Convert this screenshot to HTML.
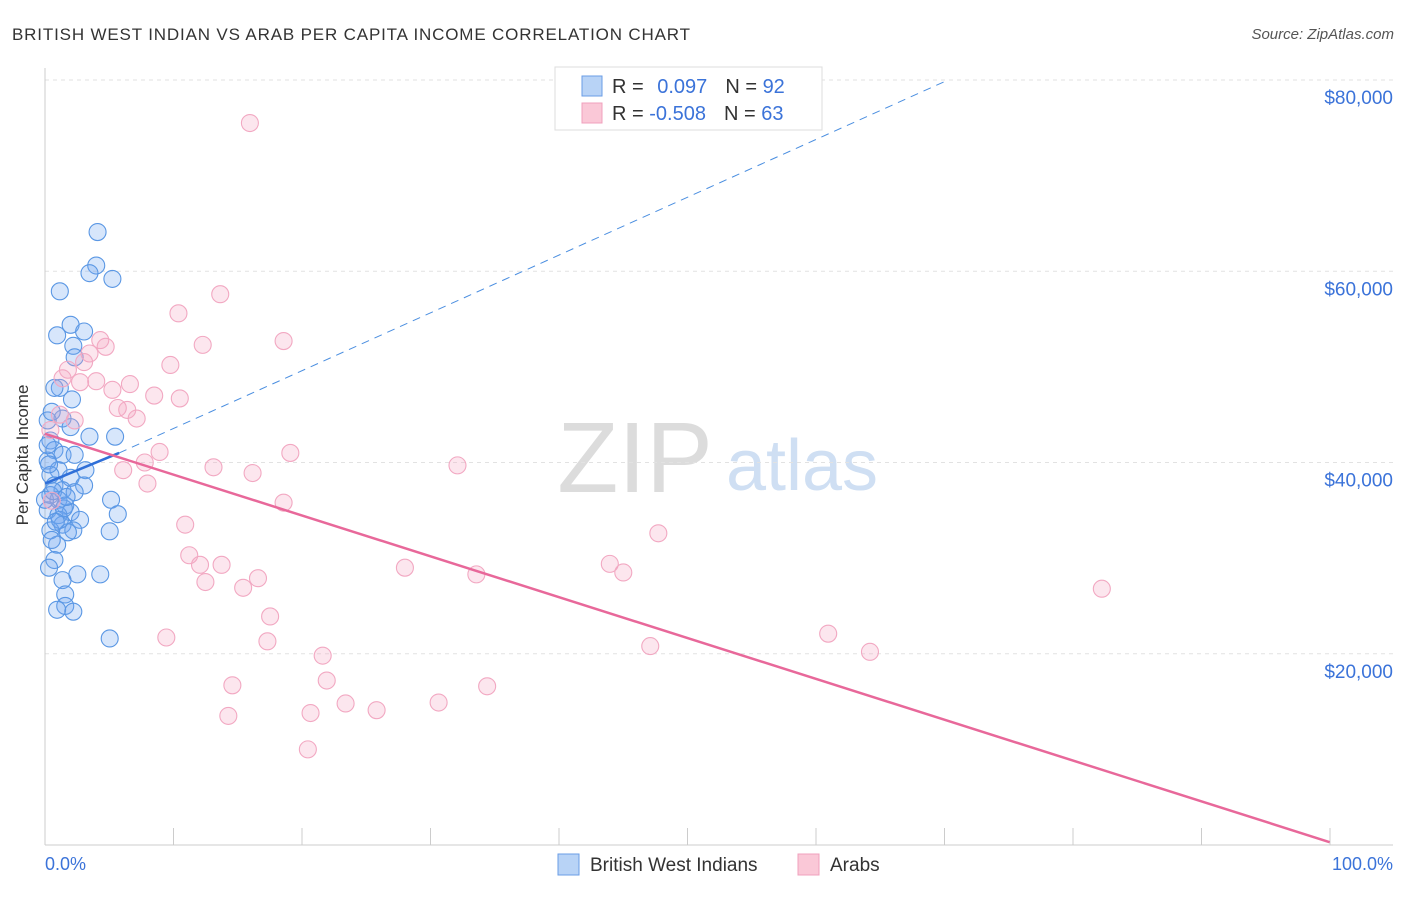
<!DOCTYPE html>
<html><head><meta charset="utf-8"><style>
body{margin:0;background:#fff;font-family:"Liberation Sans",sans-serif}
svg text{font-family:"Liberation Sans",sans-serif}
</style></head><body>
<svg width="1406" height="892" id="c">
<text x="12" y="40" font-size="17" fill="#333" textLength="678">BRITISH WEST INDIAN VS ARAB PER CAPITA INCOME CORRELATION CHART</text>
<text x="1394" y="39" font-size="15" fill="#555" font-style="italic" text-anchor="end">Source: ZipAtlas.com</text>
<text x="635" y="492" font-size="100" fill="#dcdcdc" font-family="Liberation Serif" text-anchor="middle">ZIP</text>
<text x="802" y="490" font-size="72" fill="#cfdff3" text-anchor="middle">atlas</text>
<g id="grid"></g><g id="axes"></g><g id="pts"></g><g id="lines"></g>
<text x="28" y="455" font-size="17" fill="#333" transform="rotate(-90 28 455)" text-anchor="middle">Per Capita Income</text>
<text x="45" y="870" font-size="18" fill="#3b73d9">0.0%</text>
<text x="1393" y="870" font-size="18" fill="#3b73d9" text-anchor="end">100.0%</text>
<g>
<rect x="555" y="67" width="267" height="63" fill="#fff" stroke="#ddd"/>
<rect x="582" y="76" width="20" height="20" fill="#b8d3f6" stroke="#6a9de6"/>
<rect x="582" y="103" width="20" height="20" fill="#fac8d7" stroke="#f0a0bc"/>
<text x="612" y="93" font-size="20" fill="#333">R = <tspan fill="#3b73d9" dx="8">0.097</tspan><tspan dx="18">N = </tspan><tspan fill="#3b73d9">92</tspan></text>
<text x="612" y="120" font-size="20" fill="#333">R = <tspan fill="#3b73d9">-0.508</tspan><tspan dx="18">N = </tspan><tspan fill="#3b73d9">63</tspan></text>
</g>
<g>
<rect x="558" y="854" width="21" height="21" fill="#b8d3f6" stroke="#6a9de6"/>
<text x="590" y="871" font-size="19" fill="#333">British West Indians</text>
<rect x="798" y="854" width="21" height="21" fill="#fac8d7" stroke="#f0a0bc"/>
<text x="830" y="871" font-size="19" fill="#333">Arabs</text>
</g>
</svg>
<script>
const yTicks=[20000,40000,60000,80000];
const yTickLabels=["$20,000","$40,000","$60,000","$80,000"];
const blueX=[3.9,3.8,3.3,5.0,1.1,1.9,2.9,0.9,2.1,2.2,1.1,0.7,2.0,1.3,1.9,3.3,5.2,0.4,0.7,1.3,2.2,0.2,1.0,3.0,0.4,1.9,0.7,2.9,1.3,2.2,0.4,1.0,4.9,1.5,0.2,1.9,1.0,5.4,2.6,1.3,0.4,2.1,1.7,4.8,0.9,0.7,2.4,4.1,1.3,1.5,1.5,0.9,2.1,4.8,0.2,0.5,0.2,0,1.1,0.5,0.6,1.4,0.3,0.8,1.6,0.3];
const blueY=[64100,60600,59800,59200,57900,54400,53700,53300,52200,51000,47800,47800,46600,44600,43700,42700,42700,42300,41300,40800,40800,40200,39200,39200,38700,38400,37600,37600,37100,36900,36600,36100,36100,35500,35000,34800,34500,34600,34000,33500,32900,32900,32700,32800,31400,29800,28300,28300,27700,26200,25000,24600,24400,21600,44400,45300,41800,36100,34000,31900,37000,35200,39800,33800,36400,29000];
const pinkX=[15.2,13.0,9.9,17.7,11.7,4.1,4.5,3.3,2.9,9.3,1.7,1.3,3.8,2.6,6.3,5.0,8.1,10.0,5.4,6.1,6.8,1.1,0.4,8.5,18.2,7.4,30.6,12.5,5.8,15.4,7.6,17.7,10.4,45.5,10.7,11.5,13.1,41.9,26.7,42.9,32.0,15.8,11.9,14.7,78.4,16.7,9.0,16.5,58.1,44.9,61.2,20.6,13.9,32.8,20.9,22.3,29.2,24.6,13.6,19.7,19.5,2.2,0.5];
const pinkY=[75500,57600,55600,52700,52300,52800,52100,51400,50500,50200,49700,48800,48500,48400,48200,47600,47000,46700,45700,45500,44600,45000,43400,41100,41000,40000,39700,39500,39200,38900,37800,35800,33500,32600,30300,29300,29300,29400,29000,28500,28300,27900,27500,26900,26800,23900,21700,21300,22100,20800,20200,19800,16700,16600,17200,14800,14900,14100,13500,13800,10000,44400,36000];
const blueTrend=[[0,37800],[5.5,41000]];
const blueDash=[[5.5,41000],[67,80000]];
const pinkTrend=[[0,43000],[95.3,300]];
const NS='http://www.w3.org/2000/svg';
const X0=45,X1=1393,Y0=845,YS=765/80000;
function sx(v){return X0+v*(X1-X0)/100;}
function sy(v){return Y0-v*YS;}
function mk(t,a,p){const e=document.createElementNS(NS,t);for(const k in a)e.setAttribute(k,a[k]);p.appendChild(e);return e;}
const grid=document.getElementById('grid'),axes=document.getElementById('axes'),pts=document.getElementById('pts'),lines=document.getElementById('lines');
yTicks.forEach((t,i)=>{
 const l=mk('line',{x1:X0,x2:X1,y1:sy(t),y2:sy(t),stroke:'#e2e2e2','stroke-dasharray':'4 4'},grid);
 
 
 const tx=mk('text',{x:1393,y:sy(t)+24,'font-size':19,fill:'#3b73d9','text-anchor':'end'},grid);
 tx.textContent=yTickLabels[i];
 
 
});
let a=mk('line',{x1:X0,x2:X0,y1:68,y2:Y0,stroke:'#ccc'},axes);


a=mk('line',{x1:X0,x2:X1,y1:Y0,y2:Y0,stroke:'#ccc'},axes);


for(let i=1;i<=10;i++){const xx=X0+i*128.5;
 const t=mk('line',{x1:xx,x2:xx,y1:Y0,y2:Y0-17,stroke:'#ccc'},axes);
 
 }
blueX.forEach((v,i)=>{const c=mk('circle',{cx:sx(v),cy:sy(blueY[i]),r:8.5,fill:'rgba(110,165,240,0.28)',stroke:'#5a97e4','stroke-width':1.1},pts);
 
 });
pinkX.forEach((v,i)=>{const c=mk('circle',{cx:sx(v),cy:sy(pinkY[i]),r:8.5,fill:'rgba(245,165,195,0.28)',stroke:'#f2a8c2','stroke-width':1.1},pts);
 
 });
let L=mk('line',{x1:sx(blueDash[0][0]),y1:sy(blueDash[0][1]),x2:sx(blueDash[1][0]),y2:sy(blueDash[1][1]),stroke:'#4a8ee0','stroke-dasharray':'8 6'},lines);


L=mk('line',{x1:sx(blueTrend[0][0]),y1:sy(blueTrend[0][1]),x2:sx(blueTrend[1][0]),y2:sy(blueTrend[1][1]),stroke:'#2f6fd8','stroke-width':2.5},lines);


L=mk('line',{x1:sx(pinkTrend[0][0]),y1:sy(pinkTrend[0][1]),x2:sx(pinkTrend[1][0]),y2:sy(pinkTrend[1][1]),stroke:'#e8689a','stroke-width':2.5},lines);


</script>
</body></html>
